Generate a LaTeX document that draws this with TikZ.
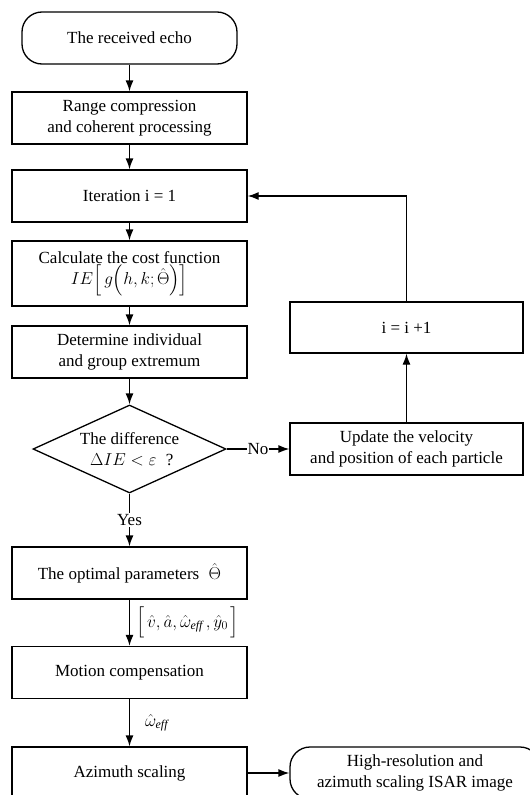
\documentclass[tikz,border=0pt]{standalone}
\usepackage{amsmath}
\usepackage{fontspec}
\setmainfont{Liberation Serif}
\usetikzlibrary{arrows.meta,shapes.geometric}
\begin{document}
\begin{tikzpicture}[x=1pt,y=-1pt,
  base/.style={draw, line width=1.3pt, align=center, inner sep=0pt,
    font=\fontsize{17pt}{20.5pt}\selectfont},
  proc/.style={base, rectangle, minimum width=235pt, minimum height=52pt},
  proc2/.style={base, rectangle, minimum width=233pt, minimum height=52pt},
  term/.style={base, rectangle, rounded corners=20pt, minimum height=52pt},
  dec/.style={base, diamond, aspect=2.2, minimum width=193pt, minimum height=88pt},
  arr/.style={line width=1.3pt, -{Latex[length=11pt,width=8pt]}},
  lab/.style={font=\fontsize{17pt}{20.5pt}\selectfont, inner sep=1pt}]
\clip (0,0) rectangle (530,795);
\useasboundingbox (0,0) rectangle (530,795);

\node[term, minimum width=215pt] (start) at (129.5,38) {The received echo};
\node[proc] (range) at (129.5,118) {Range compression\\and coherent processing};
\node[proc] (iter) at (129.5,196) {Iteration i = 1};
\node[proc, minimum height=65pt] (calc) at (129.5,273.5) {Calculate the cost function\\[1pt]$IE\Big[\,g\Big(h,k;\hat{\Theta}\Big)\Big]$};
\node[proc] (det) at (129.5,352) {Determine individual\\and group extremum};
\node[dec] (dia) at (129.5,449) {The difference\\\;$\Delta IE<\varepsilon$\;\;?};
\node[proc2] (upd) at (406.5,449) {Update the velocity\\and position of each particle};
\node[proc2, minimum height=51pt] (inc) at (406.5,327.5) {i = i +1};
\node[proc] (opt) at (129.5,573) {The optimal parameters\;\;$\hat{\Theta}$};
\node[proc] (mot) at (129.5,672.5) {Motion compensation};
\node[proc] (azi) at (129.5,773) {Azimuth scaling};
\node[term, minimum width=250pt] (fin) at (415,773) {High-resolution and\\azimuth scaling ISAR image};

\draw[arr] (start) -- (range);
\draw[arr] (range) -- (iter);
\draw[arr] (iter) -- (calc);
\draw[arr] (calc) -- (det);
\draw[arr] (det) -- (dia);
\draw[arr] (dia.east) -- node[lab, fill=white] (no) {No} (upd.west);
\draw[arr] (upd) -- (inc);
\draw[arr] (inc.north) |- (iter.east);
\draw[arr] (dia.south) -- node[lab, fill=white] (yes) {Yes} (opt.north);
\draw[arr] (opt) -- node[lab, right, xshift=5pt] (vec) {$\Big[\,\hat{v},\hat{a},\hat{\omega}_{\mathit{eff}}\,,\hat{y}_0\,\Big]$} (mot);
\draw[arr] (mot) -- node[lab, right, xshift=14pt] (om) {$\hat{\omega}_{\mathit{eff}}$} (azi);
\draw[arr] (azi) -- (fin);
\end{tikzpicture}
\end{document}
